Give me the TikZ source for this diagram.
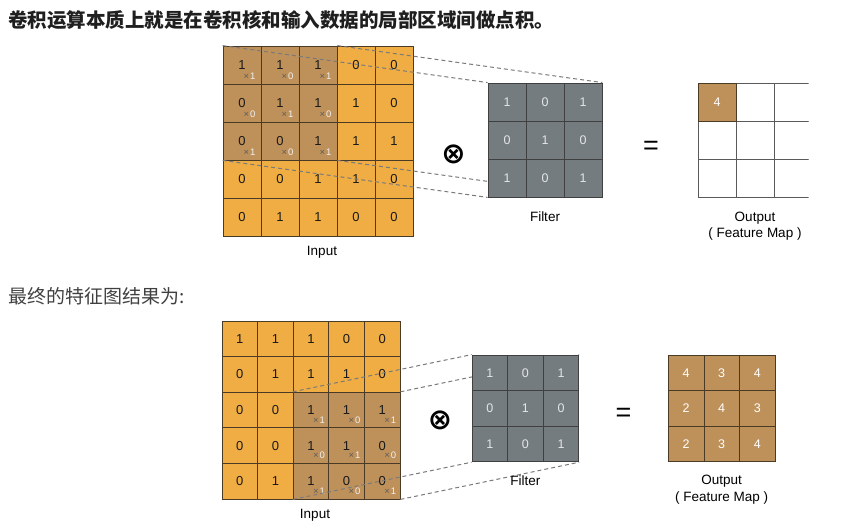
\documentclass[tikz,border=0pt]{standalone}
\usepackage{fontspec}
\setmainfont{Liberation Sans}
\newfontfamily\cjk{Noto Sans CJK SC}
\newfontfamily\symf{DejaVu Sans}
\usepackage{tikz}
\usetikzlibrary{positioning,calc}
\definecolor{inorg}{HTML}{EFAD44}
\definecolor{hit}{HTML}{BF915A}
\definecolor{gline}{HTML}{4A3B26}
\definecolor{filt}{HTML}{757C80}
\definecolor{fnum}{HTML}{E4E6E8}
\definecolor{dashc}{HTML}{7A7A7A}
\definecolor{ogrid}{HTML}{5A5A5A}
\definecolor{multx}{HTML}{5C5C5C}
\pgfdeclarelayer{bg}
\pgfdeclarelayer{mid}
\pgfsetlayers{bg,mid,main}
\tikzset{
  gcell/.style={draw=gline, line width=0.8pt, minimum size=#1, inner sep=0pt,
                font=\fontsize{12.5}{12.5}\selectfont},
  gcell/.default=38pt,
  incell/.style={gcell=#1, fill=inorg, text=black!90, font=\fontsize{13}{13}\selectfont},
  incell/.default=38pt,
  fcell/.style={gcell=#1, fill=filt, draw=black!75, text=fnum},
  fcell/.default=38pt,
  ocell/.style={gcell=#1, fill=white, draw=ogrid},
  ocell/.default=38pt,
  mult/.style={font=\fontsize{9.5}{9.5}\selectfont, inner sep=0pt, text=white!94!black},
  lbl/.style={font=\fontsize{13.5}{16.5}\selectfont, align=center, inner sep=0pt},
  proj/.style={draw=dashc, line width=1pt, dash pattern=on 4pt off 3pt},
  otimes/.style={inner sep=0pt, font=\symf\bfseries\fontsize{29}{29}\selectfont},
  eqsign/.style={inner sep=0pt, font=\fontsize{27}{27}\selectfont},
}

\begin{document}
\begin{tikzpicture}[x=1pt, y=-1pt]
  \useasboundingbox (0,0) rectangle (854,530);
  \node[anchor=west, inner sep=0pt, text=black!88] (hdr) at (8,20)
    {\cjk\bfseries\fontsize{19.5}{20}\selectfont 卷积运算本质上就是在卷积核和输入数据的局部区域间做点积。};
  \node[anchor=west, inner sep=0pt, text=black!75] (res) at (8,296)
    {\cjk\fontsize{19}{20}\selectfont 最终的特征图结果为:};

  % --- first step: window at top left
  \begin{pgfonlayer}{bg}
  \foreach \row [count=\r] in {{1,1,1,0,0},{0,1,1,1,0},{0,0,1,1,1},{0,0,1,1,0},{0,1,1,0,0}}{
    \foreach \v [count=\c] in \row {
      \def\hl{inorg}
      \ifnum\r<4 \ifnum\c<4 \def\hl{hit}\fi\fi
      \node[incell, fill=\hl] (ti-\r-\c) at ({204+38*\c},{27+38*\r}) {\v};
    }
  }
  \foreach \r in {1,2,3}{
    \foreach \c in {1,2,3}{
      \pgfmathtruncatemacro\k{mod(\r+\c+1,2)}
      \node[mult] (tm-\r-\c) at ([shift={(7.5,11)}]ti-\r-\c) {\textcolor{multx}{×}\kern1pt\k};
    }
  }
  \end{pgfonlayer}
  \foreach \row [count=\r] in {{1,0,1},{0,1,0},{1,0,1}}{
    \foreach \v [count=\c] in \row
      \node[fcell] (tf-\r-\c) at ({469+38*\c},{64+38*\r}) {\v};
  }
  \begin{pgfonlayer}{mid}
  \draw[proj] (ti-1-1.north west) -- (tf-1-1.north west);
  \draw[proj] (ti-1-3.north east) -- (tf-1-3.north east);
  \draw[proj] (ti-3-1.south west) -- (tf-3-1.south west);
  \draw[proj] (ti-3-3.south east) -- (tf-3-3.south east);
  \end{pgfonlayer}
  \begin{scope}
    \clip (690,75) rectangle (808.5,205);
    \foreach \r in {1,2,3}{
      \foreach \c in {1,2,3}
        \node[ocell] (to-\r-\c) at ({679+38*\c},{64+38*\r}) {};
    }
    \node[gcell, fill=hit, text=white] (to-win) at (to-1-1) {4};
  \end{scope}
  \node[otimes] (tx) at (453.5,154) {⊗};
  \node[eqsign] (teq) at (651,148) {=};
  \node[lbl, below=10pt of ti-5-3, xshift=4pt] (ti-lbl) {Input};
  \node[lbl, below=14pt of tf-3-2] (tf-lbl) {Filter};
  \node[lbl, below=14pt of to-3-2] (to-lbl) {Output\\( Feature Map )};

  % --- last step: window at bottom right
  \begin{pgfonlayer}{bg}
  \foreach \row [count=\r] in {{1,1,1,0,0},{0,1,1,1,0},{0,0,1,1,1},{0,0,1,1,0},{0,1,1,0,0}}{
    \foreach \v [count=\c] in \row {
      \def\hl{inorg}
      \ifnum\r>2 \ifnum\c>2 \def\hl{hit}\fi\fi
      \node[incell=35.6pt, fill=\hl] (bi-\r-\c) at ({204.2+35.6*\c},{303.2+35.6*\r}) {\v};
    }
  }
  \foreach \r in {3,4,5}{
    \foreach \c in {3,4,5}{
      \pgfmathtruncatemacro\k{mod(\r+\c+1,2)}
      \node[mult] (bm-\r-\c) at ([shift={(8,10)}]bi-\r-\c) {\textcolor{multx}{×}\kern1pt\k};
    }
  }
  \end{pgfonlayer}
  \foreach \row [count=\r] in {{1,0,1},{0,1,0},{1,0,1}}{
    \foreach \v [count=\c] in \row
      \node[fcell=35.6pt] (bf-\r-\c) at ({454.2+35.6*\c},{337.2+35.6*\r}) {\v};
  }
  \begin{pgfonlayer}{mid}
  \draw[proj] (bi-3-3.north west) -- (bf-1-1.north west);
  \draw[proj] (bi-3-5.north east) -- (bf-1-3.north east);
  \draw[proj] (bi-5-3.south west) -- (bf-3-1.south west);
  \draw[proj] (bi-5-5.south east) -- (bf-3-3.south east);
  \end{pgfonlayer}
  \foreach \row [count=\r] in {{4,3,4},{2,4,3},{2,3,4}}{
    \foreach \v [count=\c] in \row
      \node[gcell=35.6pt, fill=hit, text=white] (bo-\r-\c) at ({650.5+35.6*\c},{337.2+35.6*\r}) {\v};
  }
  \node[otimes] (bx) at (440,420) {⊗};
  \node[eqsign] (beq) at (623.5,415) {=};
  \node[lbl, below=10pt of bi-5-3, xshift=4pt] (bi-lbl) {Input};
  \node[lbl, below=13pt of bf-3-2] (bf-lbl) {Filter};
  \node[lbl, below=13pt of bo-3-2] (bo-lbl) {Output\\( Feature Map )};
\end{tikzpicture}
\end{document}
